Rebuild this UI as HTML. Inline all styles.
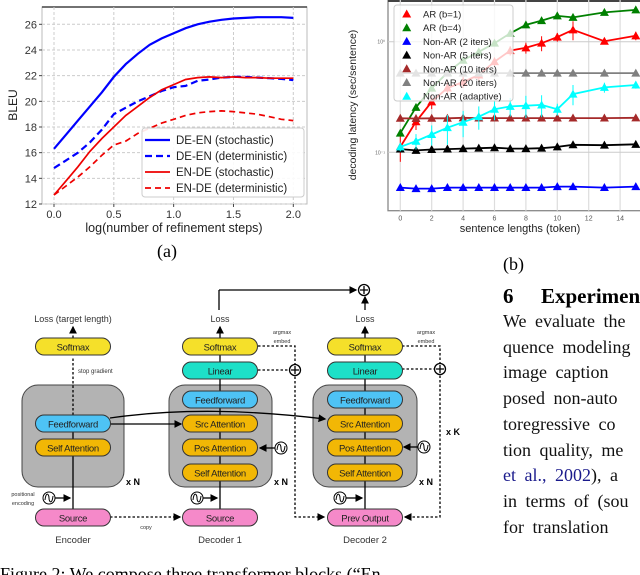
<!DOCTYPE html>
<html><head><meta charset="utf-8">
<style>
body{margin:0;width:640px;height:575px;overflow:hidden;background:#fff;font-family:"Liberation Sans",sans-serif;position:relative}
svg{position:absolute;left:0;top:0}
.serif{font-family:"Liberation Serif",serif}
#para{position:absolute;left:503px;top:309px;width:200px;font-family:"Liberation Serif",serif;font-size:18px;line-height:25.7px;white-space:nowrap;color:#111;word-spacing:4px}
</style></head><body>
<svg id="svg" width="640" height="575" viewBox="0 0 640 575">
<g id="chartA"></g>
<g id="chartB"></g>
<g id="diagram"></g>
<text x="167" y="257" font-size="18" text-anchor="middle" class="serif">(a)</text>
<text x="503" y="270" font-size="18" class="serif">(b)</text>
<text x="503" y="303" font-size="21" font-weight="bold" class="serif">6</text>
<text x="541" y="303" font-size="21" font-weight="bold" class="serif">Experiments</text>
<text x="0" y="580" font-size="18" class="serif">Figure 2: We compose three transformer blocks (“En</text>
</svg>
<div id="para">We evaluate the<br>quence modeling<br>image caption<br>posed non-auto<br>toregressive co<br>tion quality, me<br><span style="color:#1a1a8c">et al., 2002</span>), a<br>in terms of (sou<br>for translation</div>
<script>
const NS="http://www.w3.org/2000/svg";
function mk(p,t,a,txt){const e=document.createElementNS(NS,t);for(const k in a)e.setAttribute(k,a[k]);if(txt!==undefined)e.textContent=txt;p.appendChild(e);return e;}

// ---------- Chart A data ----------
const stepsA=[0,0.1,0.2,0.3,0.4,0.5,0.6,0.7,0.8,0.9,1.0,1.1,1.2,1.3,1.4,1.5,1.6,1.7,1.8,1.9,2.0];
const deEnStoch=[16.3,17.4,18.5,19.6,20.7,21.9,22.9,23.7,24.4,24.9,25.3,25.7,26.0,26.2,26.35,26.45,26.5,26.55,26.55,26.55,26.5];
const deEnDet=[14.8,15.4,16.0,16.8,17.8,19.0,19.5,20.0,20.4,20.8,21.1,21.2,21.6,21.7,21.85,21.9,21.9,21.85,21.8,21.75,21.65];
const enDeStoch=[12.7,13.8,14.9,16.1,17.1,18.0,18.9,19.6,20.3,20.9,21.3,21.7,21.85,21.9,21.85,21.9,21.85,21.85,21.8,21.8,21.8];
const enDeDet=[12.7,13.4,14.1,14.9,15.8,16.6,16.9,17.5,17.9,18.3,18.6,18.9,19.1,19.2,19.25,19.2,19.1,19.0,18.8,18.6,18.5];
const yTicksA=[12,14,16,18,20,22,24,26];
const xTicksA=[0.0,0.5,1.0,1.5,2.0];
const legendA=["DE-EN (stochastic)","DE-EN (deterministic)","EN-DE (stochastic)","EN-DE (deterministic)"];

(function(){
const g=document.getElementById('chartA');
const L=42,R=307,T=7,B=204;
const xs=v=>54+(v-0)*(293.3-54)/2, ys=v=>204-(v-12)*(204-24.3)/14;
mk(g,'rect',{x:L,y:T,width:R-L,height:B-T,fill:'#fff',stroke:'#bbb'});
mk(g,'line',{x1:L,y1:T,x2:R,y2:T,stroke:'#444','stroke-width':1.5});
yTicksA.forEach(v=>{const y=ys(v);
 const l=mk(g,'line',{x1:L,y1:y,x2:R,y2:y,stroke:'#ccc','stroke-dasharray':'3,2'});
 
 mk(g,'line',{x1:L-3,y1:y,x2:L,y2:y,stroke:'#444'});
 const t=mk(g,'text',{x:L-5,y:y+4,'font-size':11,'text-anchor':'end',fill:'#333'},String(v));
 });
xTicksA.forEach(v=>{const x=xs(v);
 mk(g,'line',{x1:x,y1:T,x2:x,y2:B,stroke:'#ccc','stroke-dasharray':'3,2'});
 mk(g,'line',{x1:x,y1:B,x2:x,y2:B+3,stroke:'#444'});
 const t=mk(g,'text',{x:x,y:B+14,'font-size':11,'text-anchor':'middle',fill:'#333'},v.toFixed(1));
 });
const series=[[deEnStoch,'#0000ff',2.2,''],[deEnDet,'#0000ff',2.2,'7,4'],[enDeStoch,'#ee0000',1.7,''],[enDeDet,'#ee0000',1.7,'6,4']];
const names=['de-en-stochastic-line','de-en-deterministic-line','en-de-stochastic-line','en-de-deterministic-line'];
series.forEach((s,i)=>{const d=stepsA.map((x,j)=>(j?'L':'M')+xs(x).toFixed(1)+','+ys(s[0][j]).toFixed(1)).join('');
 const p=mk(g,'path',{d:d,fill:'none',stroke:s[1],'stroke-width':s[2],'stroke-dasharray':s[3]});
 });
const lg=mk(g,'g',{});

mk(lg,'rect',{x:142,y:128,width:162,height:69,rx:3,fill:'#fff','fill-opacity':0.9,stroke:'#ccc'});
legendA.forEach((n,i)=>{const y=140+i*16;
 mk(lg,'line',{x1:145,y1:y,x2:170,y2:y,stroke:series[i][1],'stroke-width':series[i][2],'stroke-dasharray':series[i][3]});
 const t=mk(lg,'text',{x:176,y:y+4,'font-size':11.5,fill:'#222'},n);
 });
const yl=mk(g,'text',{x:17,y:105,'font-size':12,'text-anchor':'middle',transform:'rotate(-90 17 105)',fill:'#222'},'BLEU');

const xl=mk(g,'text',{x:174,y:232,'font-size':12.5,'text-anchor':'middle',fill:'#222'},'log(number of refinement steps)');

})();

// ---------- Chart B data ----------
const lengthsB=[0,1,2,3,4,5,6,7,8,9,10,11,13,15];
const arB1=[0.112,0.189,0.286,0.381,0.432,0.50,0.66,0.83,0.88,0.97,1.10,1.28,1.01,1.13];
const arB4=[0.149,0.255,0.38,0.525,0.68,0.81,0.97,1.19,1.42,1.55,1.71,1.66,1.84,1.94];
const nar2=[0.048,0.047,0.047,0.048,0.048,0.048,0.048,0.048,0.048,0.048,0.049,0.049,0.048,0.049];
const nar5=[0.107,0.104,0.106,0.107,0.108,0.109,0.110,0.108,0.108,0.109,0.112,0.117,0.116,0.118];
const nar10=[0.203,0.202,0.203,0.203,0.205,0.204,0.204,0.204,0.204,0.204,0.204,0.204,0.204,0.205];
const nar20=[0.52,0.52,0.52,0.52,0.52,0.52,0.52,0.52,0.52,0.52,0.52,0.52,0.52,0.52];
const narAdaptive=[0.112,0.126,0.145,0.167,0.187,0.21,0.245,0.26,0.264,0.268,0.245,0.336,0.386,0.406];
const errAdaptive=[0.01,0.02,0.03,0.05,0.05,0.05,0.05,0.05,0.06,0.06,0.03,0.07,0.04,0.03];
const errAr1=[0.03,0.03,0.04,0.05,0.05,0.06,0.06,0.08,0.1,0.15,0.1,0.25,0.05,0.1];
const xTicksB=[0,2,4,6,8,10,12,14];
const legendB=["AR (b=1)","AR (b=4)","Non-AR (2 iters)","Non-AR (5 iters)","Non-AR (10 iters)","Non-AR (20 iters)","Non-AR (adaptive)"];

(function(){
const g=document.getElementById('chartB');
const L=388,R=645,T=0,B=210.7;
const xs=v=>400.3+v*15.7, ys=v=>152.3-(Math.log10(v)+1)*110.6;
mk(g,'rect',{x:L,y:T,width:R-L,height:B-T,fill:'#fff',stroke:'#888','stroke-width':1.3});
mk(g,'line',{x1:L,y1:1,x2:R,y2:1,stroke:'#444','stroke-width':2});
xTicksB.forEach(v=>{const x=xs(v);
 mk(g,'line',{x1:x,y1:T,x2:x,y2:B,stroke:'#ddd','stroke-width':1.2});
 const t=mk(g,'text',{x:x,y:B+10,'font-size':7,'text-anchor':'middle',fill:'#555'},String(v));
 });
[0.1,1].forEach((v,i)=>{const y=ys(v);
 mk(g,'line',{x1:L,y1:y,x2:R,y2:y,stroke:'#ccc'});
 const t=mk(g,'text',{x:L-3,y:y+2,'font-size':5,'text-anchor':'end',fill:'#666'},i?'10⁰':'10⁻¹');
 });
const series=[[arB1,'#ff0000',errAr1],[arB4,'#008000',null],[nar2,'#0000ff',null],[nar5,'#000000',null],[nar10,'#a52a2a',null],[nar20,'#808080',null],[narAdaptive,'#00ffff',errAdaptive]];
const names=['ar-b1-line','ar-b4-line','nonar-2-line','nonar-5-line','nonar-10-line','nonar-20-line','nonar-adaptive-line'];
const tri=(x,y)=>`M${x},${y-4.5}L${x+4.5},${y+3.5}L${x-4.5},${y+3.5}Z`;
series.forEach((s,i)=>{
 const sg=mk(g,'g',{});
 
 if(s[2])lengthsB.forEach((x,j)=>{mk(sg,'line',{x1:xs(x),x2:xs(x),y1:ys(s[0][j]+s[2][j]),y2:ys(Math.max(0.01,s[0][j]-s[2][j])),stroke:s[1],'stroke-width':1});});
 const d=lengthsB.map((x,j)=>(j?'L':'M')+xs(x).toFixed(1)+','+ys(s[0][j]).toFixed(1)).join('');
 mk(sg,'path',{d:d,fill:'none',stroke:s[1],'stroke-width':1.8});
 lengthsB.forEach((x,j)=>{const m=mk(sg,'path',{d:tri(xs(x),ys(s[0][j])),fill:s[1]});
  });
});
const lg=mk(g,'g',{});

mk(lg,'rect',{x:394,y:5,width:119,height:96,rx:3,fill:'#fff','fill-opacity':0.78,stroke:'#ccc'});
legendB.forEach((n,i)=>{const y=14+i*13.7;
 mk(lg,'path',{d:tri(406.7,y),fill:series[i][1]});
 const t=mk(lg,'text',{x:423,y:y+3.5,'font-size':9.5,fill:'#222'},n);
 });
const yl=mk(g,'text',{x:356,y:105,'font-size':10.5,'text-anchor':'middle',transform:'rotate(-90 356 105)',fill:'#222'},'decoding latency (sec/sentence)');

const xl=mk(g,'text',{x:520,y:232,'font-size':11,'text-anchor':'middle',fill:'#222'},'sentence lengths (token)');

})();

// ---------- Diagram ----------
(function(){
const g=document.getElementById('diagram');
mk(g,'defs',{}).innerHTML='<marker id="ah" markerWidth="6" markerHeight="6" refX="5" refY="3" orient="auto"><path d="M0,0L6,3L0,6Z" fill="#000"/></marker>';
function pill(cx,y,w,txt,fill,name){const gr=mk(g,'g',{});
 
 mk(gr,'rect',{x:cx-w/2,y:y,width:w,height:17,rx:8.5,fill:fill,stroke:'#333','stroke-width':1});
 mk(gr,'text',{x:cx,y:y+12.5,'font-size':9.5,'text-anchor':'middle',fill:'#222','letter-spacing':'-0.3'},txt);}
function box(x,w,name){const b=mk(g,'rect',{x:x,y:385,width:w,height:102,rx:16,fill:'#b3b3b3',stroke:'#444'});
 }
function line(x1,y1,x2,y2,dash,arrow){const a={x1,y1,x2,y2,stroke:'#000','stroke-width':1.3};if(dash)a['stroke-dasharray']='2.5,2';if(arrow)a['marker-end']='url(#ah)';mk(g,'line',a);}
function txt(x,y,s,fs,anchor,name,extra){const t=mk(g,'text',Object.assign({x,y,'font-size':fs,'text-anchor':anchor||'middle',fill:'#333'},extra||{}),s);}
function plus(cx,cy,name){const gr=mk(g,'g',{});
 mk(gr,'circle',{cx,cy,r:5.5,fill:'#fff',stroke:'#000','stroke-width':1.3});
 mk(gr,'path',{d:`M${cx-4},${cy}H${cx+4}M${cx},${cy-4}V${cy+4}`,stroke:'#000','stroke-width':1.3});}
function sine(cx,cy,name){const gr=mk(g,'g',{});
 mk(gr,'circle',{cx,cy,r:6,fill:'#fff',stroke:'#000','stroke-width':1});
 mk(gr,'path',{d:`M${cx-4},${cy+2}C${cx-3},${cy-7} ${cx},${cy-4} ${cx},${cy}S${cx+3},${cy+7} ${cx+4},${cy-2}`,fill:'none',stroke:'#000','stroke-width':1});}
box(22,102,'encoder-block');box(169,103,'decoder1-block');box(313,104,'decoder2-block');
line(73,509,73,432); line(73,415,73,357,true); line(73,338,73,327,true,true);
[220,365].forEach(x=>{line(x,509,x,355);line(x,338,x,327,false,true);});
line(110,424,181,424,false,true);
mk(g,'path',{d:'M110,418 C180,408 250,410 325,419',fill:'none',stroke:'#000','stroke-width':1.3,'marker-end':'url(#ah)'});
line(219,310,219,290);line(219,290,356,290,false,true);line(365,310,365,297,false,true);
line(110,517,180,517,true,true);
mk(g,'path',{d:'M258,346H295V517H324',fill:'none',stroke:'#000','stroke-width':1.3,'stroke-dasharray':'2.5,2','marker-end':'url(#ah)'});
line(258,370,289,370,true);
mk(g,'path',{d:'M402,346H440V517H405',fill:'none',stroke:'#000','stroke-width':1.3,'stroke-dasharray':'2.5,2','marker-end':'url(#ah)'});
line(402,369,434,369,true);
line(55,498,70,498,false,true);line(203,498,217,498,false,true);line(346,498,362,498,false,true);
line(275,448,260,448,false,true);line(418,447,404,447,false,true);
const Y='#f5e02a',O='#f2b705',B='#4ec3f5',C='#1de0c8',P='#f589c9';
pill(73,338,75,'Softmax',Y,'encoder-softmax');pill(73,415,75,'Feedforward',B,'encoder-feedforward');
pill(73,439,75,'Self Attention',O,'encoder-self-attention');pill(73,509,75,'Source',P,'encoder-source');
[[220,'decoder1'],[365,'decoder2']].forEach(([cx,n])=>{
 pill(cx,338,75,'Softmax',Y,n+'-softmax');pill(cx,362,75,'Linear',C,n+'-linear');
 pill(cx,391,75,'Feedforward',B,n+'-feedforward');pill(cx,415,75,'Src Attention',O,n+'-src-attention');
 pill(cx,439,75,'Pos Attention',O,n+'-pos-attention');pill(cx,464,75,'Self Attention',O,n+'-self-attention');});
pill(220,509,75,'Source',P,'decoder1-source');pill(365,509,75,'Prev Output',P,'decoder2-prev-output');
plus(295,370,'plus-decoder1');plus(440,369,'plus-decoder2');plus(364,290,'plus-total-loss');
sine(49,498,'pos-enc-encoder');sine(197,498,'pos-enc-decoder1');sine(340,498,'pos-enc-decoder2');
sine(281,448,'pos-enc-attn1');sine(424,447,'pos-enc-attn2');
txt(73,322,'Loss (target length)',9,'middle','loss-target-length');
txt(220,322,'Loss',9,'middle','loss-decoder1');txt(365,322,'Loss',9,'middle','loss-decoder2');
txt(78,373,'stop gradient',6,'start','stop-gradient-label');
txt(282,334,'argmax',5.5,'middle','argmax-label-1');txt(282,343,'embed',5.5,'middle','embed-label-1');
txt(426,334,'argmax',5.5,'middle','argmax-label-2');txt(426,343,'embed',5.5,'middle','embed-label-2');
txt(23,496,'positional',5.5,'middle','positional-label');txt(23,505,'encoding',5.5,'middle','encoding-label');
txt(146,529,'copy',5.5,'middle','copy-label');
txt(133,485,'x N',9,'middle','xn-encoder',{'font-weight':'bold',fill:'#000'});
txt(281,485,'x N',9,'middle','xn-decoder1',{'font-weight':'bold',fill:'#000'});
txt(426,485,'x N',9,'middle','xn-decoder2',{'font-weight':'bold',fill:'#000'});
txt(453,435,'x K',9,'middle','xk-label',{'font-weight':'bold',fill:'#000'});
txt(73,543,'Encoder',9.5,'middle','encoder-label');txt(220,543,'Decoder 1',9.5,'middle','decoder1-label');txt(365,543,'Decoder 2',9.5,'middle','decoder2-label');
})();
</script>
</body></html>
